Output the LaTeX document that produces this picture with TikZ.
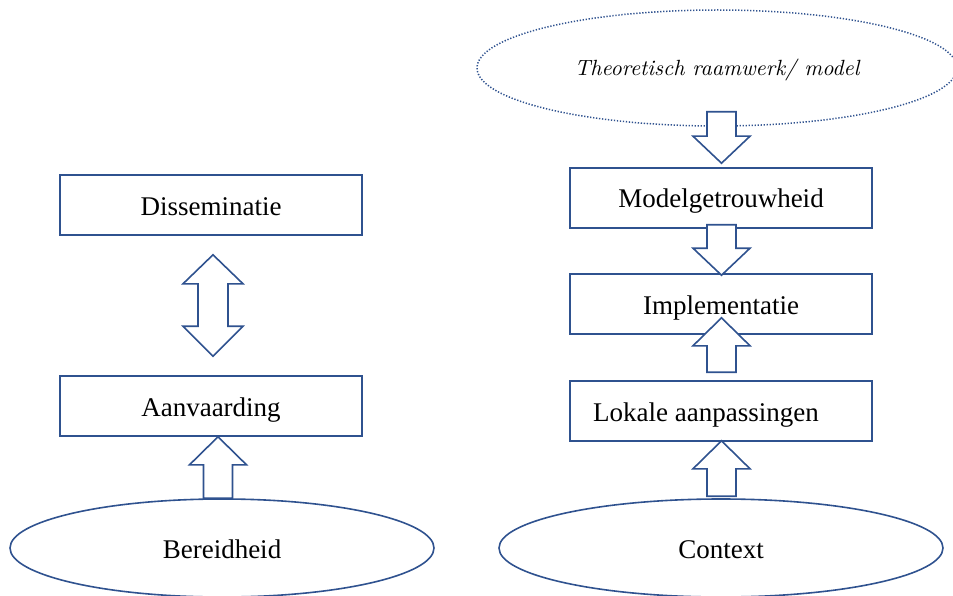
\documentclass[tikz,border=0pt]{standalone}
\usepackage{fontspec}
\setmainfont{Liberation Serif}
\newfontfamily\lmitfam{lmroman10}[Extension=.otf, UprightFont=*-regular, ItalicFont=*-italic]
\usetikzlibrary{calc,shapes.geometric}
\definecolor{edge}{RGB}{47,82,143}
\tikzset{
  box/.style={draw=edge, line width=1.6pt, rectangle, minimum width=302pt, minimum height=60pt, inner sep=0pt, text height=20pt, text depth=0pt, font=\fontsize{27}{32}\selectfont},
  ell/.style={draw=edge, line width=1.6pt, ellipse, inner sep=0pt, text height=20pt, text depth=0pt, font=\fontsize{27}{32}\selectfont},
  dotell/.style={ell, line width=1.5pt, dash pattern=on 1.3pt off 1.7pt},
  blk/.style={draw=edge, fill=white, line width=1.6pt, line join=miter}
}
\newcommand\blkUp[2]{\draw[blk] let \p1=(#1), \p2=(#2) in
  (\x2-14.5pt,\y1) -- (\x2-14.5pt,\y2-28pt) -- (\x2-28.5pt,\y2-28pt) -- (\x2,\y2)
  -- (\x2+28.5pt,\y2-28pt) -- (\x2+14.5pt,\y2-28pt) -- (\x2+14.5pt,\y1) -- cycle;}
\newcommand\blkDown[2]{\draw[blk] let \p1=(#1), \p2=(#2) in
  (\x2-14.5pt,\y1) -- (\x2-14.5pt,\y2+27pt) -- (\x2-28.5pt,\y2+27pt) -- (\x2,\y2)
  -- (\x2+28.5pt,\y2+27pt) -- (\x2+14.5pt,\y2+27pt) -- (\x2+14.5pt,\y1) -- cycle;}
\newcommand\blkBoth[2]{\draw[blk] let \p1=(#1), \p2=(#2) in
  (\x2,\y2) -- (\x2+30pt,\y2-29pt) -- (\x2+15pt,\y2-29pt) -- (\x2+15pt,\y1+30pt)
  -- (\x2+30pt,\y1+30pt) -- (\x2,\y1) -- (\x2-30pt,\y1+30pt) -- (\x2-15pt,\y1+30pt)
  -- (\x2-15pt,\y2-29pt) -- (\x2-30pt,\y2-29pt) -- cycle;}
\begin{document}
\begin{tikzpicture}[x=1pt,y=-1pt]
\useasboundingbox (0,0) rectangle (953,596);
% left column
\node[box] (diss) at (211,205) {Disseminatie};
\node[box] (aanv) at (211,406) {Aanvaarding};
\node[ell, minimum width=424pt, minimum height=98pt] (bereid) at (222,548) {Bereidheid};
% right column
\node[dotell, minimum width=480pt, minimum height=116pt, text height=15pt, font=\lmitfam\itshape\fontsize{22}{26}\selectfont] (theo) at (717,68) {Theoretisch raamwerk/ model};
\node[box] (model) at (721,198) {Modelgetrouwheid};
\node[box] (impl) at (721,304) {Implementatie};
\node[box] (lokale) at (721,411) {Lokale aanpassingen\hspace*{30pt}};
\node[ell, minimum width=444pt, minimum height=98pt] (context) at (721,548) {Context};
% block arrows
\blkBoth{$(aanv.north)+(2,-19)$}{$(diss.south)+(2,19)$}
\blkUp{$(bereid.north)+(0,0)$}{$(aanv.south)+(7,0)$}
\blkDown{$(theo.south)+(0,-15)$}{$(model.north)+(0.5,-4)$}
\blkDown{$(model.south)+(0,-4)$}{$(impl.north)+(0.5,2)$}
\blkUp{$(lokale.north)+(0,-8)$}{$(impl.south)+(0.5,-17)$}
\blkUp{$(context.north)+(0,-2)$}{$(lokale.south)+(0.5,-1)$}
\end{tikzpicture}
\end{document}
